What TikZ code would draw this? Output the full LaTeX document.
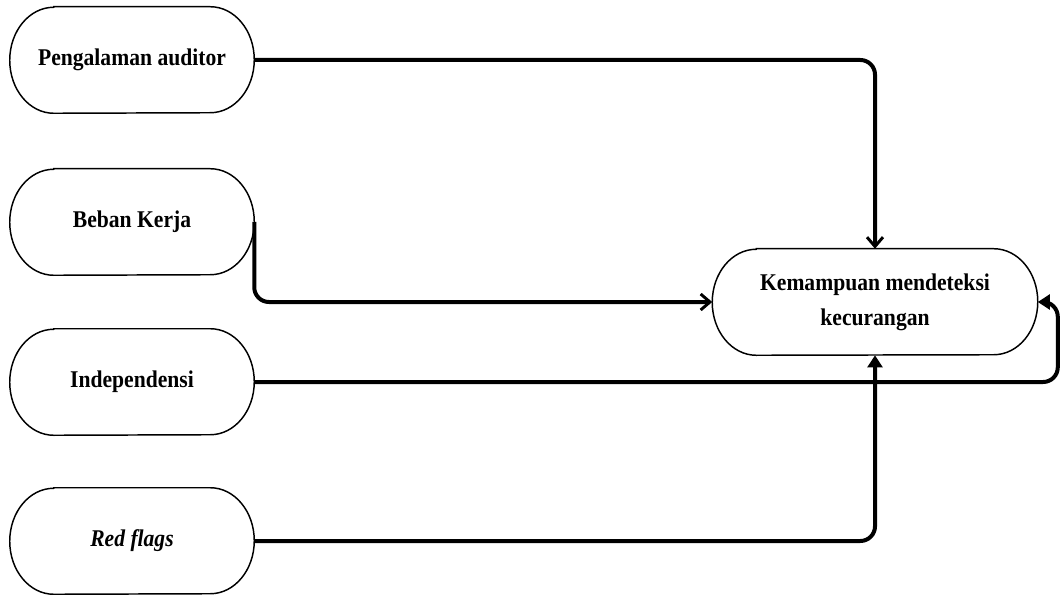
\documentclass[tikz,border=0pt]{standalone}
\usepackage{fontspec}
\setmainfont{Liberation Serif}[FakeStretch=0.9]
\usetikzlibrary{arrows.meta}
\begin{document}
\begin{tikzpicture}[x=0.75pt,y=-0.75pt,
  box/.style={draw=none,inner sep=0pt,minimum width=183pt,minimum height=79.5pt,align=center,
    font=\fontsize{18}{26.25}\selectfont\bfseries},
  outline/.style={line width=1.1pt},
  conn/.style={line width=3pt,rounded corners=11pt},
  barb/.style={-{Straight Barb[length=7pt,width=12pt,line width=2.2pt]}},
  tri/.style={-{Triangle[length=9pt,width=11pt]}}]
\useasboundingbox (0,0) rectangle (1063,595);
\node[box] (n1) at (132,60) {Pengalaman auditor};
\node[box] (n2) at (132,222) {Beban Kerja};
\node[box] (n3) at (132,382) {Independensi};
\node[box] (n4) at (132,541) {\itshape Red flags};
\node[box,minimum width=243.75pt] (tg) at (875,302) {Kemampuan mendeteksi\\kecurangan};
\foreach \n in {n1,n2,n3,n4,tg} {
  \draw[outline] ([xshift=33pt]\n.north west) -- ([xshift=-33pt]\n.north east)
    arc[start angle=90,end angle=-90,x radius=33pt,y radius=39.75pt]
    -- ([xshift=33pt]\n.south west)
    arc[start angle=270,end angle=90,x radius=33pt,y radius=39.75pt] -- cycle;
}
\draw[conn,barb] (n1.east) -| (tg.north);
\draw[conn,barb] (n2.east) |- (tg.west);
\draw[conn,tri] (n3.east) -| ([xshift=15pt]tg.east) -- (tg.east);
\draw[conn,tri] (n4.east) -| (tg.south);
\end{tikzpicture}
\end{document}
